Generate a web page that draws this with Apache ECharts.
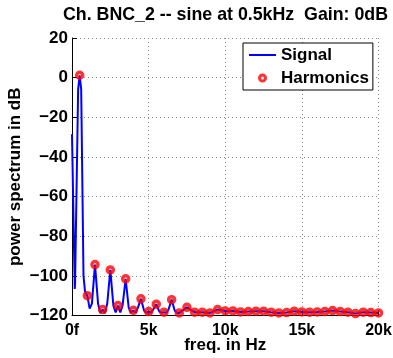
<!DOCTYPE html>
<html>
<head>
<meta charset="utf-8">
<style>
html,body{margin:0;padding:0;background:#fff;}
#c{width:393px;height:358px;}
</style>
<script src="https://cdn.jsdelivr.net/npm/echarts@6/dist/echarts.min.js"></script>
</head>
<body>
<div id="c"></div>
<script>
// ---- data ----
var titleText = 'Ch. BNC_2 -- sine at 0.5kHz  Gain: 0dB';
var xTickLabels = ['0f', '5k', '10k', '15k', '20k'];
var yTicks = [20, 0, -20, -40, -60, -80, -100, -120];

// Signal spectrum (frequency in Hz, power in dB)
var sigFreq = [0, 180, 200, 400, 500, 600, 750, 850, 1000, 1150, 1300, 1500, 1700, 1850, 2000, 2150, 2300, 2500, 2700, 2850, 3000, 3150, 3300, 3500, 3700, 3850, 4000, 4150, 4300, 4500, 4700, 4850, 5000, 5150, 5300, 5500, 5700, 5850, 6000, 6150, 6300, 6500, 6700, 6850, 7000, 7500, 8000, 8500, 9000, 9500, 10000, 10500, 11000, 11500, 12000, 12500, 13000, 13500, 14000, 14500, 15000, 15500, 16000, 16500, 17000, 17500, 18000, 18500, 19000, 19500, 20000];
var sigDb = [-28.6, -106.6, -104, -6, 1.2, -6, -100, -108, -110, -116.5, -114, -94.3, -114, -118.8, -117, -118.8, -114, -97, -115, -118.5, -115, -118.5, -115, -101.5, -116, -118.7, -117.4, -118.7, -116, -111.6, -117.5, -118.7, -118, -118.7, -117, -114.3, -118, -118.7, -118.3, -118.7, -117, -112, -117.5, -118.7, -118.7, -115.9, -118.3, -118.3, -118.7, -117, -117.7, -117.7, -118.2, -118, -117.8, -117.8, -118.3, -118.7, -118.5, -117.8, -118.2, -118.3, -118.2, -118, -117.5, -118, -118.3, -119, -118.3, -118.5, -118.7];

// Harmonics (every 0.5 kHz)
var harmFreq = [500, 1000, 1500, 2000, 2500, 3000, 3500, 4000, 4500, 5000, 5500, 6000, 6500, 7000, 7500, 8000, 8500, 9000, 9500, 10000, 10500, 11000, 11500, 12000, 12500, 13000, 13500, 14000, 14500, 15000, 15500, 16000, 16500, 17000, 17500, 18000, 18500, 19000, 19500, 20000];
var harmDb = [1.2, -110, -94.3, -117, -97, -115, -101.5, -117.4, -111.6, -118, -114.3, -118.3, -112, -118.7, -115.9, -118.3, -118.3, -118.7, -117, -117.7, -117.7, -118.2, -118, -117.8, -117.8, -118.3, -118.7, -118.5, -117.8, -118.2, -118.3, -118.2, -118, -117.5, -118, -118.3, -119, -118.3, -118.5, -118.7];

function zip(a, b) { return a.map(function (v, i) { return [v, b[i]]; }); }

var FONT = 'Liberation Sans, Arial, Helvetica, sans-serif';
var chart = echarts.init(document.getElementById('c'), null, {renderer: 'canvas'});
var gridStyle = {show: true, lineStyle: {color: '#8a8a8a', width: 1, type: [1, 3]}};

chart.setOption({
  animation: false,
  backgroundColor: '#fff',
  title: {
    text: titleText,
    left: 63, top: 6, padding: 0,
    textStyle: {fontFamily: FONT, fontWeight: 'bold', fontSize: 17.8, color: '#000'}
  },
  legend: {
    left: 243, top: 43,
    orient: 'vertical',
    padding: [3, 4, 3, 6],
    itemGap: 5,
    itemWidth: 27, itemHeight: 6,
    backgroundColor: '#fff',
    borderColor: '#000', borderWidth: 1, borderRadius: 0,
    textStyle: {fontFamily: FONT, fontWeight: 'bold', fontSize: 17, color: '#000', lineHeight: 18},
    data: [
      {name: 'Signal', icon: 'path://M0,0L27,0L27,2L0,2Z', itemStyle: {color: '#0000ff'}},
      {name: 'Harmonics', itemStyle: {color: 'rgba(0,0,0,0)', borderColor: '#ff0000', borderWidth: 3}}
    ]
  },
  grid: {left: 72, right: 14.5, top: 38, bottom: 42.5, containLabel: false, outerBoundsMode: 'none'},
  xAxis: {
    type: 'value', min: 0, max: 20000, interval: 5000,
    name: 'freq. in Hz', nameLocation: 'middle', nameGap: 21, nameMoveOverlap: false,
    nameTextStyle: {fontFamily: FONT, fontWeight: 'bold', fontSize: 17, color: '#000'},
    axisLine: {show: true, onZero: false, lineStyle: {color: '#000', width: 1}},
    axisTick: {show: true, inside: true, length: 5, lineStyle: {color: '#000'}},
    axisLabel: {
      margin: 7, fontFamily: FONT, fontWeight: 'bold', fontSize: 16, color: '#000',
      formatter: function (v) { return xTickLabels[Math.round(v / 5000)]; }
    },
    splitLine: gridStyle
  },
  yAxis: {
    type: 'value', min: -120, max: 20, interval: 20,
    name: 'power spectrum in dB', nameLocation: 'middle', nameGap: 48, nameRotate: 90, nameMoveOverlap: false,
    nameTextStyle: {fontFamily: FONT, fontWeight: 'bold', fontSize: 17, color: '#000'},
    axisLine: {show: true, lineStyle: {color: '#000', width: 1}},
    axisTick: {show: true, inside: true, length: 5, lineStyle: {color: '#000'}},
    axisLabel: {
      margin: 4, fontFamily: FONT, fontWeight: 'bold', fontSize: 17, color: '#000',
      formatter: function (v) { return String(v).replace('-', '\u2212'); }
    },
    splitLine: gridStyle
  },
  series: [
    {
      name: 'Signal', type: 'line', data: zip(sigFreq, sigDb),
      symbol: 'none', showSymbol: false,
      lineStyle: {color: '#0000ff', width: 2},
      itemStyle: {color: '#0000ff'},
      z: 2
    },
    {
      name: 'Harmonics', type: 'scatter', data: zip(harmFreq, harmDb),
      symbol: 'circle', symbolSize: 6,
      itemStyle: {color: 'rgba(0,0,0,0)', borderColor: '#ff0000', borderWidth: 3.5},
      z: 3
    }
  ]
});
</script>
</body>
</html>
